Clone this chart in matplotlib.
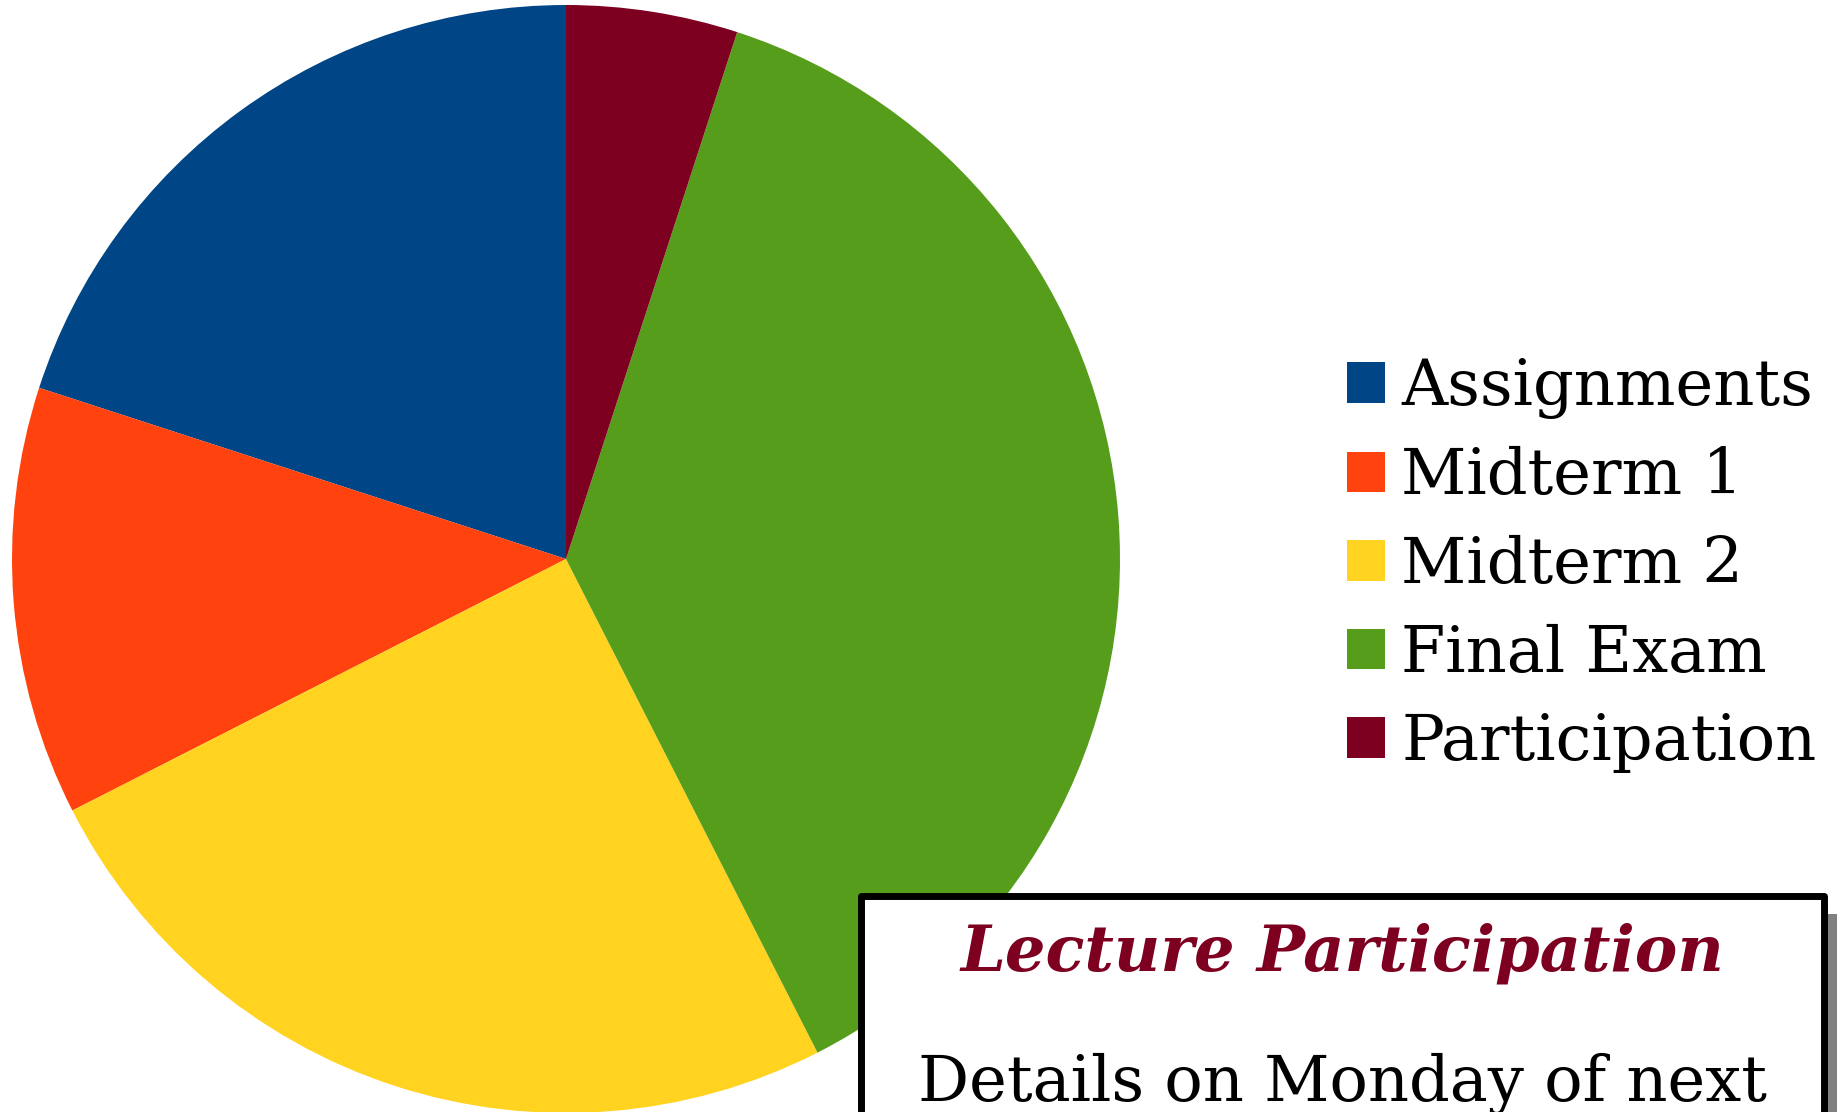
import matplotlib.pyplot as plt
from matplotlib.patches import Rectangle

labels = ["Assignments", "Midterm 1", "Midterm 2", "Final Exam", "Participation"]
weights = [20, 12.5, 25, 37.5, 5]
colors = ["#004586", "#ff420e", "#ffd320", "#579d1c", "#7e0021"]

note_title = "Lecture Participation"
note_body = "Details on Monday of next"

W, H = 1837, 1112
plt.rcParams["font.family"] = "DejaVu Serif"
fig = plt.figure(figsize=(W / 100, H / 100), dpi=100)

# pie centred at (566, 559) px, radius ~554 px
cx, cy, r = 566, 559, 554
ax = fig.add_axes([(cx - r) / W, (H - cy - r) / H, 2 * r / W, 2 * r / H])
wedges, _ = ax.pie(weights, colors=colors, startangle=90, counterclock=True,
                   radius=1, wedgeprops=dict(linewidth=0))
ax.set_xlim(-1, 1)
ax.set_ylim(-1, 1)
ax.set_aspect("equal")
ax.axis("off")

fig.legend(wedges, labels, loc="center left", bbox_to_anchor=(1347 / W, 1 - 565 / H),
           frameon=False, fontsize=46, handlelength=0.6, handleheight=0.6,
           handletextpad=0.25, labelspacing=0.43, borderaxespad=0, borderpad=0)

# note box with shadow
bx0, by0, bx1 = 861, 896, 1824
shadow = Rectangle(((bx0 + 14) / W, -0.1), (bx1 - bx0) / W, 1 - (by0 + 18) / H + 0.1,
                   transform=fig.transFigure, facecolor="#808080", edgecolor="none", zorder=5)
box = Rectangle((bx0 / W, -0.1), (bx1 - bx0) / W, 1 - by0 / H + 0.1,
                transform=fig.transFigure, facecolor="white", edgecolor="black",
                linewidth=5, joinstyle="round", zorder=6)
fig.patches.extend([shadow, box])

mid = (bx0 + bx1) / 2 / W
fig.text(mid, 1 - 970 / H, note_title, ha="center", va="baseline", fontsize=46,
         fontweight="bold", fontstyle="italic", color="#7e0021", zorder=7)
fig.text(mid, 1 - 1101 / H, note_body, ha="center", va="baseline", fontsize=46,
         color="black", zorder=7)

fig.savefig("out.png", dpi=100)
